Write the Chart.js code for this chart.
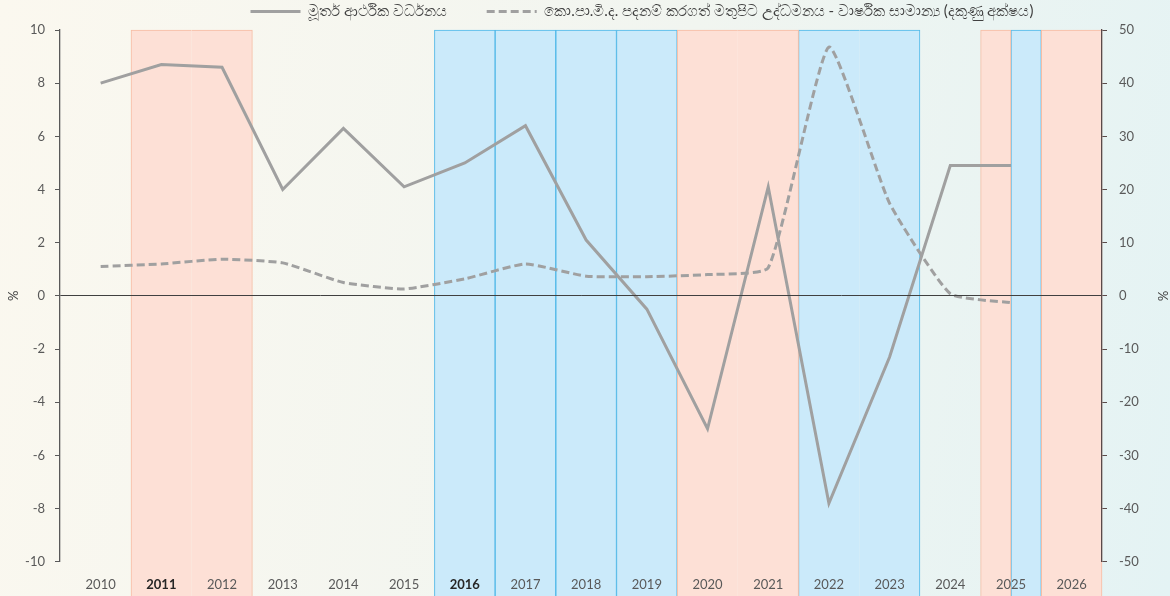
<!DOCTYPE html>
<html>
<head>
<meta charset="utf-8">
<script src="https://cdn.jsdelivr.net/npm/chart.js@4.4.1/dist/chart.umd.min.js"></script>
<style>
  html, body { margin: 0; padding: 0; }
  body { width: 1170px; height: 596px; background: linear-gradient(100deg, #fbf8ef 0%, #f1f5f0 55%, #e4f3f4 100%); }
  #wrap { width: 1170px; height: 596px; position: relative; }
</style>
</head>
<body>
<div id="wrap"><canvas id="myChart"></canvas></div>
<script>
// years on the x axis
const years = [2010, 2011, 2012, 2013, 2014, 2015, 2016, 2017, 2018, 2019, 2020, 2021, 2022, 2023, 2024, 2025, 2026];
// real GDP growth (left axis, %)
const gdpGrowth = [8.0, 8.7, 8.6, 4.0, 6.3, 4.1, 5.0, 6.4, 2.1, -0.5, -5.0, 4.1, -7.8, -2.3, 4.9, 4.9, null];
// CCPI headline inflation, annual average (right axis, %)
const inflation = [5.5, 6.0, 6.9, 6.2, 2.5, 1.3, 3.2, 6.0, 3.7, 3.6, 4.0, 5.3, 46.8, 17.4, 0.4, -1.3, null];
// shaded periods: 0 = none, same number = same period
const pinkPeriods = [0, 1, 1, 0, 0, 0, 0, 0, 0, 0, 2, 2, 0, 0, 0, 3, 4];
const bluePeriods = [0, 0, 0, 0, 0, 0, 1, 2, 3, 4, 0, 0, 5, 5, 0, 6, 0];
const boldYears = [2011, 2016];

const gdpLabel = 'මූර්ත ආර්ථික වර්ධනය';
const inflLabel = 'කො.පා.මි.ද. පදනම් කරගත් මතුපිට උද්ධමනය - වාර්ෂික සාමාන්‍ය (දකුණු අක්ෂය)';

const FONT = 'Lato, "Noto Sans", sans-serif';
const shadeLow = -12, shadeHigh = 10;

// border only where a period starts or ends
function periodBorder(periods, i) {
  return {
    top: 1,
    bottom: 0,
    left: periods[i - 1] !== periods[i] ? 1 : 0,
    right: periods[i + 1] !== periods[i] ? 1 : 0
  };
}

// move the legend a bit (spacing like the original)
const legendNudge = {
  id: 'legendNudge',
  afterLayout(chart) {
    const lg = chart.legend;
    if (!lg) return;
    lg.top = -36;
    lg.left += 57; lg.right += 57;
  }
};

const ctx = document.getElementById('myChart');

new Chart(ctx, {
  type: 'line',
  data: {
    labels: years,
    datasets: [
      {
        label: gdpLabel,
        data: gdpGrowth,
        yAxisID: 'y',
        borderColor: '#a0a0a0',
        backgroundColor: '#a0a0a0',
        borderWidth: 3,
        pointRadius: 0,
        pointStyle: 'line',
        tension: 0,
        order: 0
      },
      {
        label: inflLabel,
        data: inflation,
        yAxisID: 'y2',
        borderColor: '#a0a0a0',
        backgroundColor: '#a0a0a0',
        borderWidth: 3,
        borderDash: [8, 4],
        pointRadius: 0,
        pointStyle: 'line',
        tension: 0.15,
        order: 0
      },
      {
        type: 'bar',
        label: 'pink',
        data: pinkPeriods.map(p => p ? [shadeLow, shadeHigh] : null),
        yAxisID: 'y',
        backgroundColor: '#fde0d6',
        borderColor: '#f6bca3',
        borderWidth: c => periodBorder(pinkPeriods, c.dataIndex),
        borderSkipped: false,
        barPercentage: 1,
        categoryPercentage: 1,
        grouped: true,
        skipNull: true,
        clip: false,
        order: 2
      },
      {
        type: 'bar',
        label: 'blue',
        data: bluePeriods.map(p => p ? [shadeLow, shadeHigh] : null),
        yAxisID: 'y',
        backgroundColor: '#cbeafa',
        borderColor: '#4fb8e8',
        borderWidth: c => periodBorder(bluePeriods, c.dataIndex),
        borderSkipped: false,
        barPercentage: 1,
        categoryPercentage: 1,
        grouped: true,
        skipNull: true,
        clip: false,
        order: 2
      }
    ]
  },
  options: {
    responsive: true,
    maintainAspectRatio: false,
    animation: false,
    devicePixelRatio: 1,
    layout: { padding: 0 },
    plugins: {
      tooltip: { enabled: false },
      legend: {
        position: 'top',
        maxHeight: 30,
        labels: {
          usePointStyle: true,
          pointStyleWidth: 50,
          color: '#404040',
          font: { family: FONT, size: 15 },
          padding: 40,
          filter: item => item.datasetIndex < 2,
          generateLabels: chart => {
            const items = Chart.defaults.plugins.legend.labels.generateLabels(chart);
            items.forEach(it => {
              const ds = chart.data.datasets[it.datasetIndex];
              it.lineDash = ds.borderDash || [];
              it.lineWidth = ds.borderWidth;
              it.pointStyle = 'line';
              it.strokeStyle = ds.borderColor;
            });
            return items;
          }
        }
      }
    },
    scales: {
      x: {
        type: 'linear',
        min: 2009.33,
        max: 2026.5,
        offset: false,
        grid: { display: false, drawTicks: false, offset: false },
        border: { display: false },
        ticks: {
          stepSize: 1,
          includeBounds: false,
          autoSkip: false,
          maxRotation: 0,
          padding: 15,
          z: 1,
          color: c => boldYears.includes(c.tick && c.tick.value) ? '#262626' : '#595959',
          font: c => ({ family: FONT, size: 13, weight: boldYears.includes(c.tick && c.tick.value) ? 'bold' : 'normal' }),
          callback: v => Number.isInteger(v) ? String(v) : ''
        },
        afterFit: s => { s.height = 34.3; }
      },
      y: {
        position: 'left',
        min: -10,
        max: 10,
        ticks: { stepSize: 2, padding: 10, color: '#595959', font: { family: FONT, size: 13 } },
        grid: {
          color: c => c.tick.value === 0 ? '#404040' : 'rgba(0,0,0,0)',
          tickColor: '#595959',
          tickLength: 5,
          lineWidth: 1,
          z: 1
        },
        border: { color: '#595959', width: 1.3, z: 1 },
        title: { display: true, text: '%', color: '#404040', font: { family: FONT, size: 13 }, padding: { top: 6, bottom: 0 } },
        afterFit: s => { s.width = 60; }
      },
      y2: {
        position: 'right',
        min: -50,
        max: 50,
        ticks: { stepSize: 10, padding: 12, color: '#595959', font: { family: FONT, size: 13 } },
        grid: { drawOnChartArea: false, tickColor: '#5a4a4a', tickLength: 5 },
        border: { color: '#5a4a4a', width: 1.3, z: 1 },
        title: { display: true, text: '%', color: '#404040', font: { family: FONT, size: 13 }, padding: { top: 0, bottom: 0 } },
        afterFit: s => { s.width = 68; }
      }
    }
  },
  plugins: [legendNudge]
});
</script>
</body>
</html>
